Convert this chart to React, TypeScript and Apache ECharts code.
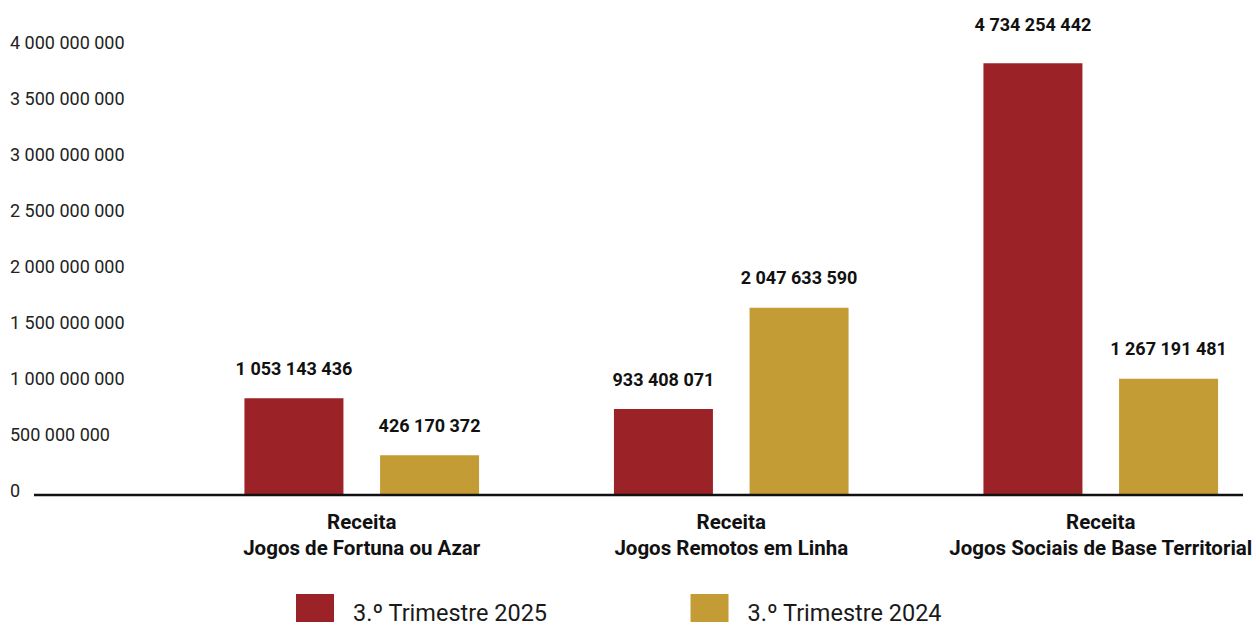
import React, { useEffect, useRef } from "react";
import * as echarts from "echarts";

const categories = [
  "Receita\nJogos de Fortuna ou Azar",
  "Receita\nJogos Remotos em Linha",
  "Receita\nJogos Sociais de Base Territorial",
];
const seriesNames = ["3.º Trimestre 2025", "3.º Trimestre 2024"];
const values2025 = [1053143436, 933408071, 4734254442];
const values2024 = [426170372, 2047633590, 1267191481];
const axisMin = 0;
const axisMax = 4000000000;
const axisInterval = 500000000;
const barAxisMax = 4930000000;

const colors = ["#9b2226", "#c49c36"];
const FONT = "Roboto, 'Noto Sans', sans-serif";

const fmt = (v: number) =>
  Math.round(v).toString().replace(/\B(?=(\d{3})+(?!\d))/g, " ");

export default function App() {
  const ref = useRef<HTMLDivElement>(null);
  useEffect(() => {
    if (!ref.current) return;
    const chart = echarts.init(ref.current, undefined, { renderer: "svg" });
    const maxIdx = values2025.indexOf(Math.max(...values2025));
    const labelBase = {
      show: true,
      position: "top",
      distance: 21,
      fontFamily: FONT,
      fontWeight: "bold",
      fontSize: 18,
      color: "#111",
      formatter: (p: any) => fmt(p.value),
    };
    chart.setOption({
      animation: false,
      textStyle: { fontFamily: FONT },
      grid: [
        { left: 177, top: 42, width: 1108.5, height: 448.5 },
        { left: 177, top: 45.5, width: 1108.5, height: 448.5 },
      ],
      legend: {
        left: 296,
        top: 594,
        padding: 0,
        itemWidth: 38,
        itemHeight: 38,
        itemGap: 143,
        icon: "rect",
        textStyle: {
          fontFamily: FONT,
          fontSize: 23.5,
          color: "#1a1a1a",
          padding: [0, 0, 0, 14],
        },
        data: seriesNames,
      },
      xAxis: [
        {
          type: "category",
          gridIndex: 1,
          data: categories,
          axisLine: { show: false },
          axisTick: { show: false },
          axisLabel: {
            interval: 0,
            margin: 15,
            fontFamily: FONT,
            fontWeight: "bold",
            fontSize: 20.5,
            lineHeight: 26,
            color: "#111",
          },
        },
        { type: "category", gridIndex: 0, data: categories, show: false },
      ],
      yAxis: [
        {
          type: "value",
          gridIndex: 0,
          min: axisMin,
          max: axisMax,
          interval: axisInterval,
          splitLine: { show: false },
          axisLine: { show: false },
          axisTick: { show: false },
          axisLabel: {
            align: "left",
            margin: 167,
            fontFamily: FONT,
            fontSize: 18,
            color: "#222",
            formatter: (v: number) => fmt(v),
          },
        },
        { type: "value", gridIndex: 1, min: 0, max: barAxisMax, show: false },
      ],
      series: [
        {
          name: seriesNames[0],
          type: "bar",
          xAxisIndex: 0,
          yAxisIndex: 1,
          barWidth: 99,
          barGap: "37%",
          itemStyle: { color: colors[0] },
          label: labelBase,
          data: values2025.map((v, i) =>
            i === maxIdx ? { value: v, label: { distance: 30 } } : v
          ),
        },
        {
          name: seriesNames[1],
          type: "bar",
          xAxisIndex: 0,
          yAxisIndex: 1,
          barWidth: 99,
          barGap: "37%",
          itemStyle: { color: colors[1] },
          label: labelBase,
          data: values2024,
        },
      ],
      graphic: [
        {
          type: "line",
          shape: { x1: 34, y1: 495, x2: 1243, y2: 495 },
          style: { stroke: "#111", lineWidth: 2.5 },
          z: 10,
        },
      ],
    });
    return () => chart.dispose();
  }, []);
  return (
    <div
      style={{
        position: "absolute",
        left: 0,
        top: 0,
        width: 1256,
        height: 622,
        overflow: "hidden",
      }}
    >
      <div ref={ref} style={{ width: 1300, height: 622 }} />
    </div>
  );
}
